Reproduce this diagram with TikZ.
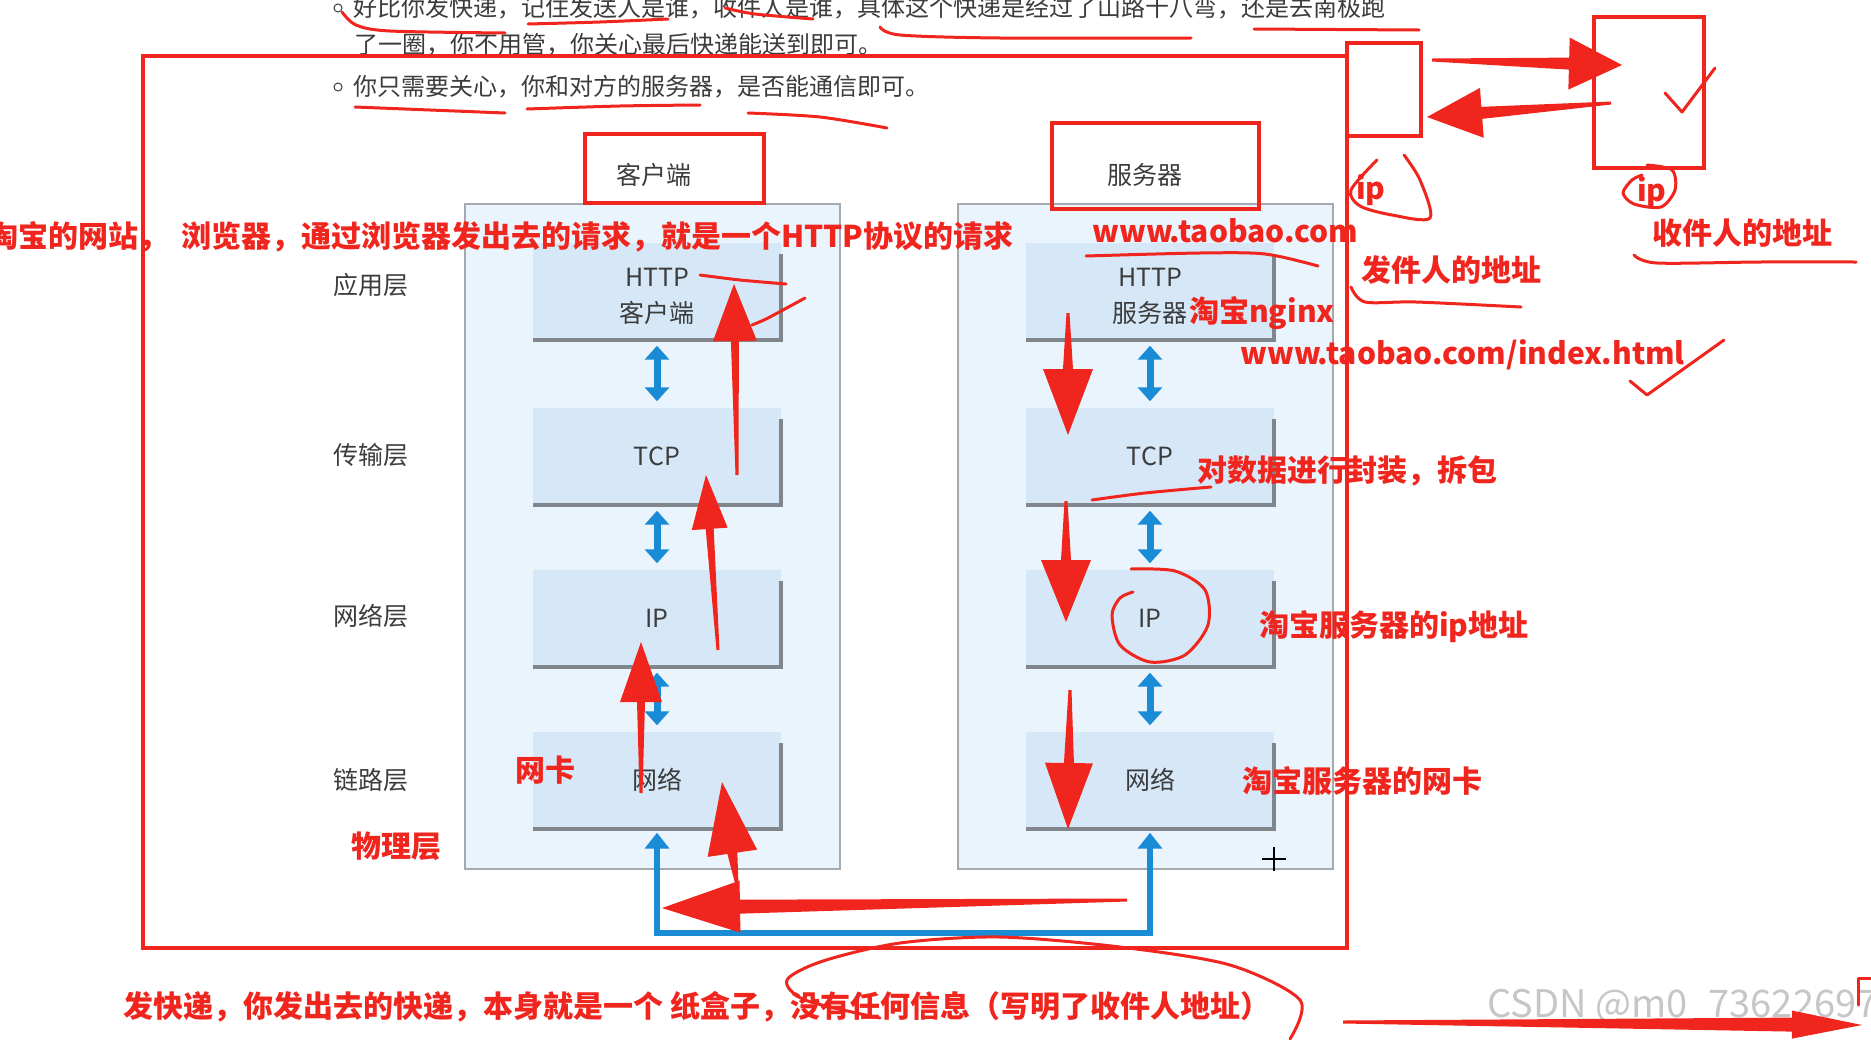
\documentclass[tikz,border=0pt]{standalone}
\usepackage{fontspec}
\setmainfont{Noto Sans CJK SC}
\usepackage{xcolor}
\definecolor{annored}{RGB}{240,38,30}
\definecolor{layerblue}{RGB}{214,232,247}
\definecolor{panelblue}{RGB}{234,244,252}
\definecolor{arrowblue}{RGB}{26,140,214}
\definecolor{textgray}{RGB}{60,60,60}
\definecolor{edgegray}{RGB}{128,134,140}
\usepackage{tikz}
\usetikzlibrary{arrows.meta,calc}
% hand drawn red arrow: tail, tip, head length, half head width, half shaft width
\newcommand{\penarrow}[5]{%
  \coordinate (pen-base) at ($#2!#3!#1$);
  \fill[annored] ($#1!1.5pt!90:#2$) -- ($(pen-base)!#5!90:#2$) -- ($(pen-base)!#4!90:#2$) -- #2
    -- ($(pen-base)!#4!-90:#2$) -- ($(pen-base)!#5!-90:#2$) -- ($#1!1.5pt!-90:#2$) -- cycle;}

\begin{document}
\begin{tikzpicture}[x=1pt,y=-1pt,
  annoline/.style={draw=annored,line width=4pt},
  scribble/.style={draw=annored,line width=3pt,line cap=round,line join=round},
  annotext/.style={text=annored,font=\fontsize{30}{34}\selectfont\bfseries,inner sep=0pt,anchor=west},
  introtext/.style={text=textgray,font=\fontsize{24}{28}\selectfont,inner sep=0pt,anchor=west},
  panel/.style={draw=edgegray!70,line width=1.5pt,fill=panelblue,minimum width=375pt,minimum height=665pt},
  layerbox/.style={fill=layerblue,minimum width=248pt,minimum height=97pt,inner sep=0pt,text=textgray,align=center,font=\fontsize{25}{36}\selectfont},
  layername/.style={text=textgray,font=\fontsize{25}{30}\selectfont},
  bluearrow/.style={draw=arrowblue,line width=7pt,{Triangle[length=14pt,width=24pt]}-{Triangle[length=14pt,width=24pt]},shorten <=6pt,shorten >=6pt}]
\useasboundingbox (0,0) rectangle (1871,1039);
\fill[white] (0,0) rectangle (1871,1039);
\clip (0,0) rectangle (1871,1039);

% notes above the figure
\draw[textgray,line width=1pt] (338,8) circle (4pt);
\node[introtext] (line-a) at (353,8) {好比你发快递，记住发送人是谁，收件人是谁，具体这个快递是经过了山路十八弯，还是去南极跑};
\node[introtext] (line-b) at (354,45) {了一圈，你不用管，你关心最后快递能送到即可。};
\draw[textgray,line width=1pt] (338,87) circle (4pt);
\node[introtext] (line-c) at (353,87) {你只需要关心，你和对方的服务器，是否能通信即可。};

% the two stacks
\node[panel] (client) at (652.5,536.5) {};
\node[panel] (server) at (1145.5,536.5) {};
\node[layername] (c-title) at (654,175) {客户端};
\node[layername] (s-title) at (1145,175) {服务器};
\node[layername] (l-app) at (371,285) {应用层};
\node[layername] (l-trans) at (371,455) {传输层};
\node[layername] (l-net) at (371,616) {网络层};
\node[layername] (l-link) at (371,780) {链路层};

\node[layerbox] (c-http) at (657,291) {\rule{0pt}{30pt}HTTP\\客户端};
\node[layerbox] (c-tcp) at (657,456) {TCP};
\node[layerbox] (c-ip) at (657,618) {IP};
\node[layerbox] (c-link) at (657,780) {网络};
\node[layerbox] (s-http) at (1150,291) {\rule{0pt}{30pt}HTTP\\服务器};
\node[layerbox] (s-tcp) at (1150,456) {TCP};
\node[layerbox] (s-ip) at (1150,618) {IP};
\node[layerbox] (s-link) at (1150,780) {网络};
\foreach \b in {c-http,c-tcp,c-ip,c-link,s-http,s-tcp,s-ip,s-link}
  \draw[edgegray,line width=4pt] ([yshift=-12pt]\b.north east) -- (\b.south east) -- (\b.south west);
\foreach \a/\b in {c-http/c-tcp,c-tcp/c-ip,c-ip/c-link,s-http/s-tcp,s-tcp/s-ip,s-ip/s-link}
  \draw[bluearrow] (\a.south) -- (\b.north);
\coordinate (bus) at (900,933);
\draw[draw=arrowblue,line width=6pt,{Triangle[length=16pt,width=24pt]}-{Triangle[length=16pt,width=24pt]},shorten <=4pt,shorten >=4pt]
  (c-link.south) |- (bus) -| (s-link.south);

% red frames
\draw[annoline] (585,134) rectangle (764,203);
\draw[annoline] (1052,123) rectangle (1259,209);
\draw[annoline] (143,56) rectangle (1347,948);
\draw[annoline] (1347,43) rectangle (1421,136);
\draw[annoline] (1594,17) rectangle (1704,168);

% red notes
\node[annotext] (t-site) at (-12,237) {淘宝的网站，};
\node[annotext] (t-browser) at (181,237) {浏览器，通过浏览器发出去的请求，就是一个HTTP协议的请求};
\node[annotext] (t-url) at (1092,231) {www.taobao.com};
\node[annotext] (t-nginx) at (1189,313) {淘宝nginx};
\node[annotext] (t-index) at (1240,355) {www.taobao.com/index.html};
\node[annotext] (t-pack) at (1197,471) {对数据进行封装，拆包};
\node[annotext] (t-sip) at (1259,627) {淘宝服务器的ip地址};
\node[annotext] (t-snic) at (1242,781) {淘宝服务器的网卡};
\node[annotext] (t-nic) at (515,770) {网卡};
\node[annotext] (t-phys) at (351,846) {物理层};
\node[annotext] (t-sender) at (1361,270) {发件人的地址};
\node[annotext] (t-receiver) at (1652,233) {收件人的地址};
\node[annotext] (ip-a) at (1356,190) {ip};
\node[annotext] (ip-b) at (1637,192) {ip};
\node[annotext] (t-box) at (123,1007) {发快递，你发出去的快递，本身就是一个 纸盒子，没有任何信息（写明了收件人地址）};
\node[text=gray!45,font=\fontsize{38}{42}\selectfont,inner sep=0pt,anchor=west] (wm) at (1487,1007) {CSDN @m0\_73622697};

% underlines and loops
\draw[scribble] plot[smooth] coordinates {(342,12) (356,25) (390,31) (505,33)};
\draw[scribble] plot[smooth] coordinates {(528,24) (600,22) (668,19)};
\draw[scribble] plot[smooth] coordinates {(725,8) (755,14) (813,19)};
\draw[scribble] plot[smooth] coordinates {(880,27) (900,35) (1000,38) (1191,38)};
\draw[scribble] plot[smooth] coordinates {(1254,29) (1419,30)};
\draw[scribble] plot[smooth] coordinates {(355,107) (430,110) (505,113)};
\draw[scribble] plot[smooth] coordinates {(527,109) (620,106) (700,105)};
\draw[scribble] plot[smooth] coordinates {(748,113) (820,117) (887,128)};
\draw[scribble] plot[smooth] coordinates {(700,275) (740,280) (786,284)};
\draw[scribble] plot[smooth] coordinates {(752,325) (768,318) (805,298)};
\draw[scribble] plot[smooth] coordinates {(1086,256) (1200,253) (1265,254) (1318,266)};
\draw[scribble] plot[smooth] coordinates {(1092,500) (1145,493) (1211,487)};
\draw[scribble] plot[smooth] coordinates {(1131,569) (1175,571) (1205,590) (1208,625) (1185,655) (1150,662) (1120,645) (1112,615) (1120,598) (1133,592)};
\draw[scribble] plot[smooth] coordinates {(1351,287) (1365,302) (1416,302) (1521,307)};
\draw[scribble] plot[smooth] coordinates {(1634,255) (1657,263) (1760,262) (1856,262)};
\draw[scribble] (1630,381) -- (1647,395) -- (1724,340);
\draw[scribble] (1665,93) -- (1682,112) -- (1715,68);
\draw[scribble] plot[smooth] coordinates {(1404,155) (1420,180) (1430,218) (1392,215) (1360,206) (1351,190) (1377,160)};
\draw[scribble] plot[smooth] coordinates {(1647,165) (1672,170) (1675,190) (1661,207) (1634,204) (1623,193) (1632,180) (1642,175)};
\draw[scribble] plot[smooth] coordinates {(880,1018) (805,1000) (787,980) (823,961) (900,943) (1000,937) (1120,947) (1230,965) (1300,1000) (1290,1039)};
\draw[scribble] (1871,978) -- (1858,978) -- (1858,1005);

% red arrows
\penarrow{(737,475)}{(734,284)}{57pt}{22pt}{4pt}
\penarrow{(718,650)}{(706,475)}{54pt}{18pt}{4pt}
\penarrow{(641,793)}{(641,642)}{60pt}{21pt}{4pt}
\penarrow{(737,885)}{(722,782)}{72pt}{25pt}{5pt}
\penarrow{(1127,900)}{(662,908)}{78pt}{26pt}{7pt}
\penarrow{(1068,313)}{(1068,435)}{66pt}{25pt}{5pt}
\penarrow{(1066,501)}{(1066,622)}{62pt}{25pt}{5pt}
\penarrow{(1070,690)}{(1068,829)}{66pt}{24pt}{5pt}
\penarrow{(1432,60)}{(1622,65)}{53pt}{26pt}{6pt}
\penarrow{(1611,103)}{(1427,117)}{55pt}{25pt}{6pt}
\penarrow{(1343,1022)}{(1862,1025)}{70pt}{14pt}{7pt}

% mouse cursor
\draw[black,line width=2pt] (1262,859) -- (1286,859) (1274,847) -- (1274,871);
\end{tikzpicture}
\end{document}
